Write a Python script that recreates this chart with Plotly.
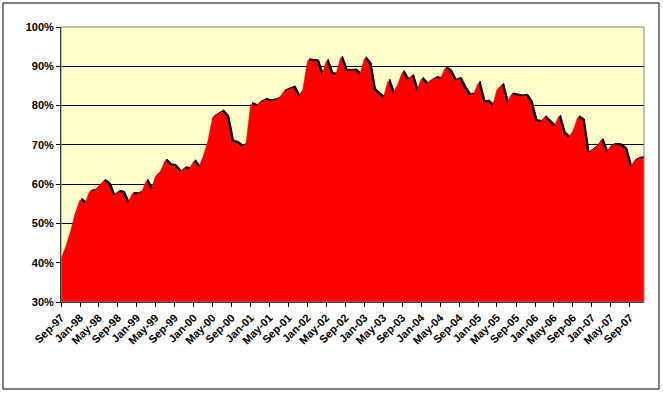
import plotly.graph_objects as go
import pandas as pd

start_month = "1997-09-01"
values = [
    41.0, 44.0, 48.0, 52.5,                                              # 1997 Sep-Dec
    56.0, 55.0, 58.0, 58.3, 59.5, 60.8, 60.0, 57.0, 58.0, 57.8, 55.0, 57.5,  # 1998
    57.4, 58.0, 60.8, 58.5, 62.0, 63.2, 66.0, 64.8, 64.5, 63.0, 64.0, 63.8,  # 1999
    65.8, 64.2, 67.0, 71.0, 77.0, 77.7, 78.5, 77.0, 70.8, 70.5, 69.5, 70.2,  # 2000
    80.4, 79.8, 80.8, 81.4, 81.1, 81.3, 81.8, 83.6, 84.2, 84.6, 82.2, 84.0,  # 2001
    91.5, 91.4, 91.2, 87.5, 91.4, 88.0, 87.8, 92.2, 88.8, 88.8, 88.9, 87.8,  # 2002
    92.0, 90.5, 84.0, 82.8, 81.8, 86.3, 83.0, 85.2, 88.5, 86.5, 87.5, 83.5,  # 2003
    86.8, 85.4, 86.3, 87.0, 86.7, 89.5, 88.7, 86.3, 86.8, 84.5, 82.6, 82.8,  # 2004
    85.8, 80.8, 81.0, 79.8, 84.0, 85.3, 80.5, 82.8, 82.5, 82.3, 82.5, 80.8,  # 2005
    76.0, 75.8, 77.0, 75.8, 74.6, 77.2, 72.9, 71.8, 73.5, 77.0, 76.2, 67.8,  # 2006
    68.6, 69.6, 71.2, 68.0, 69.7, 70.0, 69.8, 68.8, 64.2, 66.0, 66.5, 66.6,  # 2007
]
months = pd.date_range(start_month, periods=len(values), freq="MS")
y_vals = [v / 100 for v in values]

y_ticks = [0.3, 0.4, 0.5, 0.6, 0.7, 0.8, 0.9, 1.0]

# depth (shadow) offset of the Excel 3-D style area
shadow_x = months + pd.Timedelta(days=12)
shadow_y = [v + 0.004 for v in y_vals]

fig = go.Figure()
fig.add_trace(go.Scatter(
    x=shadow_x, y=shadow_y, mode="lines", fill="tozeroy",
    line=dict(color="#000000", width=1), fillcolor="#000000",
    hoverinfo="skip", showlegend=False,
))
fig.add_trace(go.Scatter(
    x=months, y=y_vals, mode="lines", fill="tozeroy",
    line=dict(color="#FF0000", width=0.5), fillcolor="#FF0000",
    showlegend=False,
))

ml, mr, mt, mb = 61, 19, 27, 91
W, H = 663, 393
pw, ph = W - ml - mr, H - mt - mb

tick_font = dict(family="Liberation Sans, Arial", size=11, color="#000000", weight="bold")

fig.update_layout(
    width=W, height=H,
    margin=dict(l=ml, r=mr, t=mt, b=mb, autoexpand=False),
    paper_bgcolor="#FFFFFF",
    plot_bgcolor="#FFFFCC",
    font=dict(family="Liberation Sans, Arial", size=11, color="#000000"),
    showlegend=False,
    xaxis=dict(
        type="date",
        range=[months[0], months[-1]],
        tick0=start_month, dtick="M4", tickformat="%b-%y",
        tickangle=-45, automargin=False,
        ticks="outside", ticklen=4, tickcolor="#000000",
        showgrid=False, zeroline=False,
        showline=True, linecolor="#000000", linewidth=1,
        tickfont=tick_font,
    ),
    yaxis=dict(
        range=[0.3, 1.0], automargin=False,
        tickvals=y_ticks, tickformat=".0%",
        ticks="outside", ticklen=4, tickcolor="#000000",
        showgrid=True, gridcolor="#000000", gridwidth=1,
        zeroline=False,
        showline=True, linecolor="#000000", linewidth=1,
        tickfont=tick_font,
        layer="above traces",
    ),
    shapes=[
        dict(type="rect", xref="paper", yref="paper", x0=0, x1=1, y0=0, y1=1,
             line=dict(color="#808080", width=1), layer="above"),
        dict(type="rect", xref="paper", yref="paper",
             x0=(3 - ml) / pw, x1=(659 - ml) / pw,
             y0=(mt + ph - 389) / ph, y1=(mt + ph - 3) / ph,
             line=dict(color="#000000", width=1), layer="above"),
    ],
)

fig.write_html(
    "out.html",
    config={"displayModeBar": False},
    post_script="document.body.style.margin='0';document.body.style.padding='0';",
)
